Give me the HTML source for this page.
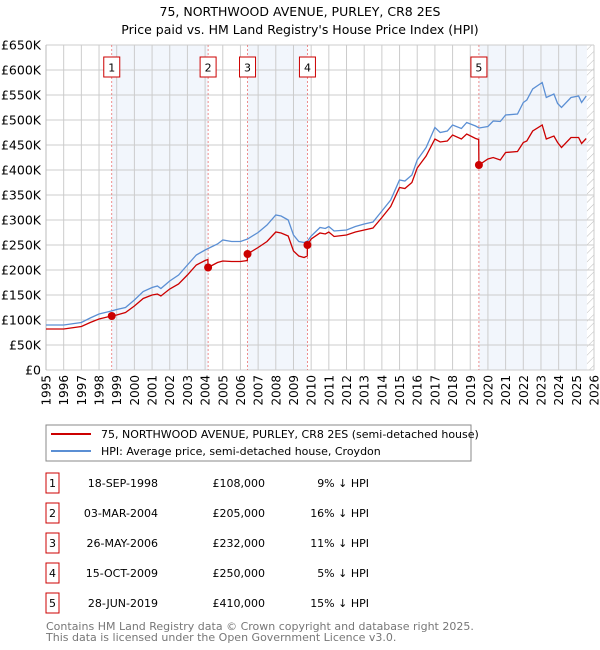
<!DOCTYPE html>
<html><head><meta charset="utf-8"><style>
body{margin:0;background:#fff;font-family:"Liberation Sans","DejaVu Sans",sans-serif}
svg{display:block}
</style></head><body>
<svg id="c" width="600" height="650" font-family="DejaVu Sans, Liberation Sans, sans-serif"></svg>
<script>
const hpiYears=[1995,1996,1997,1997.5,1998,1998.7,1999,1999.5,2000,2000.5,2001,2001.3,2001.5,2002,2002.5,2003,2003.5,2004,2004.17,2004.7,2005,2005.5,2006,2006.4,2007,2007.5,2008,2008.3,2008.7,2009,2009.3,2009.6,2009.8,2010,2010.5,2010.8,2011,2011.3,2012,2012.5,2013,2013.5,2014,2014.5,2015,2015.3,2015.7,2016,2016.5,2017,2017.3,2017.7,2018,2018.5,2018.8,2019.3,2019.5,2020,2020.3,2020.7,2021,2021.67,2022,2022.2,2022.53,2023.07,2023.3,2023.73,2023.94,2024.16,2024.7,2025.13,2025.3,2025.56];
const hpiValues=[90,90,95,104,112,118,121,125,140,157,165,168,163,178,190,210,230,240,243,252,260,257,257,262,275,290,310,308,300,270,257,255,258,268,285,283,287,278,280,287,292,296,318,340,380,378,390,420,445,485,475,478,490,483,495,488,484,487,498,497,510,512,535,540,562,575,545,552,533,525,545,548,535,548];
const redYears=[1995,1996,1997,1997.5,1998,1998.7,1999,1999.5,2000,2000.5,2001,2001.3,2001.5,2002,2002.5,2003,2003.5,2004,2004.16,2004.17,2004.7,2005,2005.5,2006,2006.39,2006.4,2007,2007.5,2008,2008.3,2008.7,2009,2009.3,2009.6,2009.78,2009.79,2010,2010.5,2010.8,2011,2011.3,2012,2012.5,2013,2013.5,2014,2014.5,2015,2015.3,2015.7,2016,2016.5,2017,2017.3,2017.7,2018,2018.5,2018.8,2019.3,2019.48,2019.49,2020,2020.3,2020.7,2021,2021.67,2022,2022.2,2022.53,2023.07,2023.3,2023.73,2023.94,2024.16,2024.7,2025.13,2025.3,2025.56];
const redValues=[82,82,87,95,102,108,110,115,128,143,150,152,148,162,172,190,210,219,221,205,215,218,217,217,219,232,245,257,276,274,268,238,228,225,228,250,262,274,272,276,267,270,276,280,284,305,327,365,363,375,404,428,462,456,458,470,462,472,463,461,410,422,425,420,435,437,455,458,478,490,462,468,455,445,465,465,453,463];
const saleYears=[1998.72,2004.17,2006.4,2009.79,2019.49];
const saleValues=[108,205,232,250,410];
const saleLabels=["1","2","3","4","5"];
const yTicks=[0,50,100,150,200,250,300,350,400,450,500,550,600,650];
const yTickLabels=["£0","£50K","£100K","£150K","£200K","£250K","£300K","£350K","£400K","£450K","£500K","£550K","£600K","£650K"];
const saleDates=["18-SEP-1998","03-MAR-2004","26-MAY-2006","15-OCT-2009","28-JUN-2019"];
const salePrices=["£108,000","£205,000","£232,000","£250,000","£410,000"];
const saleDiffs=["9% ↓ HPI","16% ↓ HPI","11% ↓ HPI","5% ↓ HPI","15% ↓ HPI"];

const L=46,R=594,T=45,B=370,dataEnd=2025.6;
const X=y=>L+(y-1995)/(2026-1995)*(R-L);
const Y=v=>B-(v/650)*(B-T);
const svg=document.getElementById('c');
const NS='http://www.w3.org/2000/svg';
function mk(tag,attrs,parent){const e=document.createElementNS(NS,tag);for(const k in attrs)e.setAttribute(k,attrs[k]);(parent||svg).appendChild(e);return e;}
function txt(s,attrs){const e=mk('text',attrs);e.textContent=s;return e;}

let t=txt("75, NORTHWOOD AVENUE, PURLEY, CR8 2ES",{x:300,y:16,'text-anchor':'middle','font-size':12.5});

t=txt("Price paid vs. HM Land Registry's House Price Index (HPI)",{x:300,y:34,'text-anchor':'middle','font-size':12.5});


const shadePairs=[[saleYears[0],saleYears[1]],[saleYears[2],saleYears[3]],[saleYears[4],dataEnd]];
shadePairs.forEach(p=>{const r=mk('rect',{x:X(p[0]),y:T,width:X(p[1])-X(p[0]),height:B-T,fill:'#edf2fb',opacity:0.7});
});
const defs=mk('defs',{});
const pat=mk('pattern',{id:'h',width:6,height:6,patternUnits:'userSpaceOnUse',patternTransform:'rotate(45)'},defs);
mk('line',{x1:0,y1:0,x2:0,y2:6,stroke:'#bbb','stroke-width':1},pat);
let hr=mk('rect',{x:X(dataEnd),y:T,width:R-X(dataEnd),height:B-T,fill:'url(#h)'});


for(let yr=1995;yr<=2026;yr++){
  const g=mk('line',{x1:X(yr),x2:X(yr),y1:T,y2:B,stroke:'#cccccc','stroke-width':1});
  
  const lb=txt(String(yr),{transform:`translate(${X(yr)+4.5},${B+5}) rotate(-90)`,'text-anchor':'end','font-size':12});
  
}
yTicks.forEach((v,i)=>{
  const g=mk('line',{x1:L,x2:R,y1:Y(v),y2:Y(v),stroke:'#cccccc','stroke-width':1});
  
  const lb=txt(yTickLabels[i],{x:L-5,y:Y(v)+4.5,'text-anchor':'end','font-size':12.5});
  
});
let ax=mk('line',{x1:L,x2:L,y1:T,y2:B,stroke:'#bbb'});

saleYears.forEach((yr,i)=>{
  const l=mk('line',{x1:X(yr),x2:X(yr),y1:T,y2:B,stroke:'#e86060','stroke-width':0.7,'stroke-dasharray':'2,2'});
  
  const bx=mk('rect',{x:X(yr)-8,y:57,width:16,height:20,fill:'#fff',stroke:'#cc0000','stroke-width':1});
  
  const lt=txt(saleLabels[i],{x:X(yr),y:71.5,'text-anchor':'middle','font-size':11});
  
});

function path(xs,vs){return xs.map((x,i)=>(i?'L':'M')+X(x).toFixed(1)+','+Y(vs[i]).toFixed(1)).join('');}
let hp=mk('path',{d:path(hpiYears,hpiValues),fill:'none',stroke:'#5b8fd4','stroke-width':1.3});

let rp=mk('path',{d:path(redYears,redValues),fill:'none',stroke:'#cc0000','stroke-width':1.3});

saleYears.forEach((yr,i)=>{
  const d=mk('circle',{cx:X(yr),cy:Y(saleValues[i]),r:4,fill:'#cc0000'});
  
});

let lg=mk('rect',{x:46,y:425,width:425,height:36,fill:'#fff',stroke:'#888','stroke-width':1});

let ll=mk('line',{x1:51,x2:91,y1:434,y2:434,stroke:'#cc0000','stroke-width':2});
let lt1=txt("75, NORTHWOOD AVENUE, PURLEY, CR8 2ES (semi-detached house)",{x:101,y:438,'font-size':11});
ll=mk('line',{x1:51,x2:91,y1:451,y2:451,stroke:'#5b8fd4','stroke-width':2});
lt1=txt("HPI: Average price, semi-detached house, Croydon",{x:101,y:455,'font-size':11});

saleLabels.forEach((s,i)=>{
  const cy=483+i*30;
  const b=mk('rect',{x:46,y:cy-10,width:13,height:20,fill:'#fff',stroke:'#cc0000','stroke-width':1});
  
  let e=txt(s,{x:52.5,y:cy+4,'text-anchor':'middle','font-size':11});
  e=txt(saleDates[i],{x:158,y:cy+4,'text-anchor':'end','font-size':11});
  e=txt(salePrices[i],{x:265,y:cy+4,'text-anchor':'end','font-size':11});
  e=txt(saleDiffs[i],{x:369,y:cy+4,'text-anchor':'end','font-size':11});
});
let f=txt("Contains HM Land Registry data © Crown copyright and database right 2025.",{x:46,y:630,'font-size':11,fill:'#777'});

f=txt("This data is licensed under the Open Government Licence v3.0.",{x:46,y:641,'font-size':11,fill:'#777'});

</script>
</body></html>
